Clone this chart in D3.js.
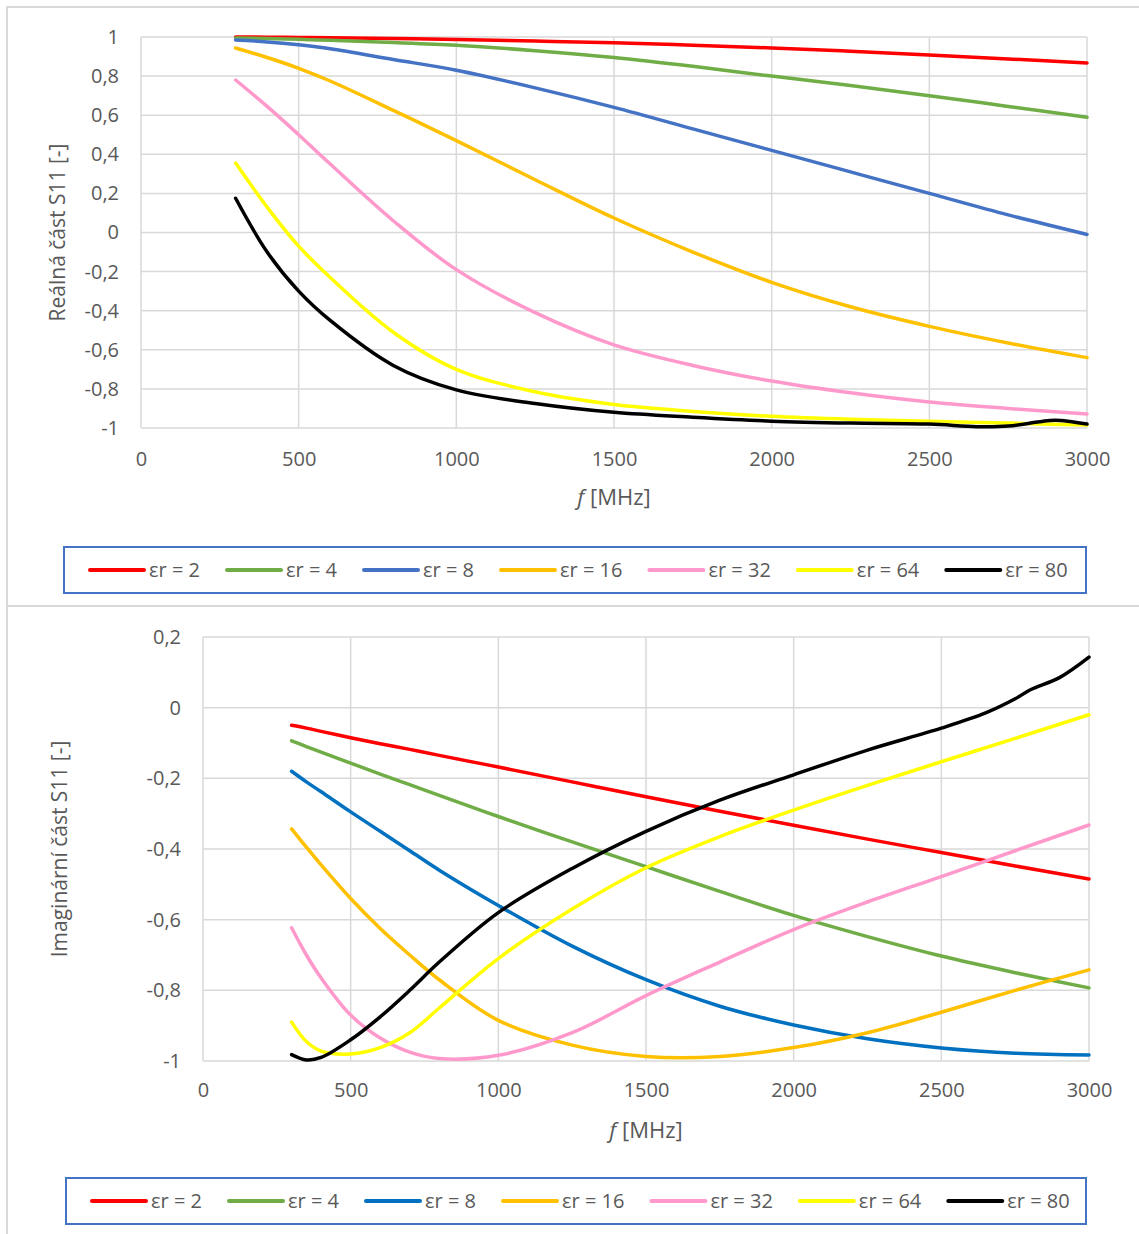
<!DOCTYPE html>
<html>
<head>
<meta charset="utf-8">
<script src="https://cdn.jsdelivr.net/npm/d3@7"></script>
<style>
  body { margin: 0; background: #fff; }
  svg { display: block; font-family: "Open Sans", sans-serif; }
</style>
</head>
<body>
<svg id="chart" width="1139" height="1234"></svg>
<script>
// legend labels + colours
var labels = ["εr = 2", "εr = 4", "εr = 8", "εr = 16", "εr = 32", "εr = 64", "εr = 80"]
var colorsTop = ["#FF0000", "#70AD47", "#4472C4", "#FFC000", "#FF99CC", "#FFFF00", "#000000"]
var colorsBot = ["#FF0000", "#70AD47", "#0070C0", "#FFC000", "#FF99CC", "#FFFF00", "#000000"]

var xTicks = [0, 500, 1000, 1500, 2000, 2500, 3000]
var yTicksTop = [-1, -0.8, -0.6, -0.4, -0.2, 0, 0.2, 0.4, 0.6, 0.8, 1]
var yTicksBot = [-1, -0.8, -0.6, -0.4, -0.2, 0, 0.2]

// real part of S11
var freqTop = [300, 400, 500, 600, 800, 1000, 1250, 1500, 1750, 2000, 2250, 2500, 2750, 3000]
var freqTopBlack = [300, 400, 500, 600, 800, 1000, 1250, 1500, 1750, 2000, 2250, 2500, 2650, 2750, 2850, 2900, 3000]
var reEr2  = [1.0, 0.999, 0.998, 0.996, 0.992, 0.987, 0.979, 0.97, 0.958, 0.944, 0.927, 0.908, 0.888, 0.867]
var reEr4  = [0.995, 0.992, 0.988, 0.983, 0.972, 0.958, 0.93, 0.895, 0.85, 0.80, 0.752, 0.70, 0.645, 0.59]
var reEr8  = [0.985, 0.975, 0.96, 0.94, 0.885, 0.83, 0.74, 0.64, 0.53, 0.42, 0.31, 0.20, 0.09, -0.01]
var reEr16 = [0.944, 0.895, 0.84, 0.775, 0.625, 0.47, 0.27, 0.074, -0.10, -0.255, -0.38, -0.48, -0.565, -0.64]
var reEr32 = [0.78, 0.645, 0.50, 0.35, 0.06, -0.19, -0.41, -0.575, -0.68, -0.76, -0.82, -0.867, -0.90, -0.928]
var reEr64 = [0.355, 0.13, -0.07, -0.23, -0.51, -0.70, -0.815, -0.88, -0.915, -0.94, -0.955, -0.965, -0.975, -0.985]
var reEr80 = [0.175, -0.10, -0.30, -0.45, -0.68, -0.805, -0.875, -0.92, -0.945, -0.965, -0.975, -0.98, -0.993, -0.99, -0.968, -0.96, -0.98]

// imaginary part of S11
var freqBot = [300, 350, 400, 500, 600, 700, 800, 1000, 1250, 1500, 1750, 2000, 2250, 2500, 2750, 3000]
var freqBotBlack = [300, 350, 400, 500, 600, 700, 800, 1000, 1250, 1500, 1750, 2000, 2250, 2500, 2650, 2750, 2800, 2900, 3000]
var imEr2  = [-0.05, -0.058, -0.067, -0.085, -0.102, -0.118, -0.135, -0.168, -0.21, -0.252, -0.293, -0.333, -0.372, -0.41, -0.448, -0.485]
var imEr4  = [-0.094, -0.11, -0.126, -0.157, -0.188, -0.218, -0.248, -0.308, -0.38, -0.45, -0.52, -0.588, -0.648, -0.703, -0.75, -0.793]
var imEr8  = [-0.18, -0.21, -0.238, -0.295, -0.35, -0.405, -0.46, -0.56, -0.675, -0.77, -0.845, -0.898, -0.937, -0.963, -0.978, -0.983]
var imEr16 = [-0.343, -0.395, -0.445, -0.54, -0.625, -0.70, -0.77, -0.885, -0.955, -0.987, -0.987, -0.962, -0.92, -0.862, -0.80, -0.742]
var imEr32 = [-0.623, -0.70, -0.765, -0.87, -0.935, -0.975, -0.993, -0.984, -0.92, -0.815, -0.72, -0.628, -0.55, -0.478, -0.405, -0.332]
var imEr64 = [-0.89, -0.945, -0.972, -0.98, -0.962, -0.92, -0.85, -0.71, -0.57, -0.453, -0.365, -0.29, -0.22, -0.153, -0.087, -0.02]
var imEr80 = [-0.982, -0.997, -0.99, -0.94, -0.875, -0.80, -0.72, -0.58, -0.455, -0.35, -0.262, -0.19, -0.12, -0.058, -0.015, 0.025, 0.05, 0.085, 0.143]

var textColor = "#595959", gridColor = "#D9D9D9"
var svg = d3.select("#chart")

// panel borders
svg.append("rect").attr("x", 7).attr("y", 7).attr("width", 1140).attr("height", 599)
  .attr("fill", "none").attr("stroke", gridColor).attr("stroke-width", 2)
svg.append("rect").attr("x", 7).attr("y", 606).attr("width", 1140).attr("height", 640)
  .attr("fill", "none").attr("stroke", gridColor).attr("stroke-width", 2)

function fmt(d) { return String(d).replace(".", ",") }

function drawChart(o) {
  var x = d3.scaleLinear().domain([0, 3000]).range([o.left, o.right])
  var y = d3.scaleLinear().domain(o.yDomain).range([o.bottom, o.top])
  var g = svg.append("g")

  // grid
  g.selectAll(".hg").data(o.yTicks).enter().append("line")
    .attr("x1", o.left).attr("x2", o.right)
    .attr("y1", d => y(d)).attr("y2", d => y(d))
    .attr("stroke", gridColor).attr("stroke-width", 1.5)
  g.selectAll(".vg").data(xTicks).enter().append("line")
    .attr("y1", o.top).attr("y2", o.bottom)
    .attr("x1", d => x(d)).attr("x2", d => x(d))
    .attr("stroke", gridColor).attr("stroke-width", 1.5)

  // axes (labels only)
  var ya = g.append("g").attr("transform", "translate(" + o.left + ",0)")
    .call(d3.axisLeft(y).tickValues(o.yTicks).tickFormat(fmt).tickSize(0).tickPadding(22))
  var xa = g.append("g").attr("transform", "translate(0," + o.bottom + ")")
    .call(d3.axisBottom(x).tickValues(xTicks).tickFormat(fmt).tickSize(0).tickPadding(o.xPad))
  ya.select(".domain").remove()
  xa.select(".domain").remove()
  g.selectAll(".tick text").attr("fill", textColor).style("font-size", "20px")
    .style("font-family", "'Open Sans', sans-serif")

  // axis titles
  var xt = g.append("text").attr("x", (o.left + o.right) / 2).attr("y", o.bottom + 77)
    .attr("text-anchor", "middle").attr("fill", textColor).style("font-size", "22px")
  xt.append("tspan").style("font-style", "italic").text("f")
  xt.append("tspan").text(" [MHz]")
  g.append("text")
    .attr("transform", "translate(" + o.titleX + "," + (o.top + o.bottom) / 2 + ") rotate(-90)")
    .attr("text-anchor", "middle").attr("dy", "0.35em")
    .attr("fill", textColor).style("font-size", "21px").text(o.yTitle)

  // series
  var line = d3.line().x(d => x(d[0])).y(d => y(d[1])).curve(d3.curveCatmullRom.alpha(0.5))
  o.series.forEach(function(s, i) {
    g.append("path").datum(d3.zip(s.f, s.v))
      .attr("d", line).attr("fill", "none")
      .attr("stroke", o.colors[i]).attr("stroke-width", 3.5)
      .attr("stroke-linecap", "round")
  })

  // legend
  var lg = g.append("g")
  lg.append("rect").attr("x", o.legX).attr("y", o.legY).attr("width", o.legW).attr("height", 46)
    .attr("fill", "white").attr("stroke", "#4472C4").attr("stroke-width", 2)
  var cx = o.legX + 26
  labels.forEach(function(l, i) {
    var cy = o.legY + 23
    lg.append("line").attr("x1", cx).attr("x2", cx + 54).attr("y1", cy).attr("y2", cy)
      .attr("stroke", o.colors[i]).attr("stroke-width", 4).attr("stroke-linecap", "round")
    var t = lg.append("text").attr("x", cx + 59).attr("y", cy).attr("dy", "0.35em")
      .attr("fill", textColor).style("font-size", "20px").text(l)
    cx += 59 + t.node().getComputedTextLength() + 27
  })
}

drawChart({
  left: 141, right: 1087, top: 37, bottom: 428, yDomain: [-1, 1], yTicks: yTicksTop,
  titleX: 58, yTitle: "Reálná část S11 [-]", colors: colorsTop, xPad: 24,
  legX: 64, legY: 547, legW: 1022,
  series: [
    {f: freqTop, v: reEr2}, {f: freqTop, v: reEr4}, {f: freqTop, v: reEr8},
    {f: freqTop, v: reEr16}, {f: freqTop, v: reEr32}, {f: freqTop, v: reEr64},
    {f: freqTopBlack, v: reEr80}
  ]
})

drawChart({
  left: 203, right: 1089, top: 637, bottom: 1061, yDomain: [-1, 0.2], yTicks: yTicksBot,
  titleX: 60, yTitle: "Imaginární část S11 [-]", colors: colorsBot, xPad: 22,
  legX: 66, legY: 1178, legW: 1020,
  series: [
    {f: freqBot, v: imEr2}, {f: freqBot, v: imEr4}, {f: freqBot, v: imEr8},
    {f: freqBot, v: imEr16}, {f: freqBot, v: imEr32}, {f: freqBot, v: imEr64},
    {f: freqBotBlack, v: imEr80}
  ]
})
</script>
</body>
</html>
